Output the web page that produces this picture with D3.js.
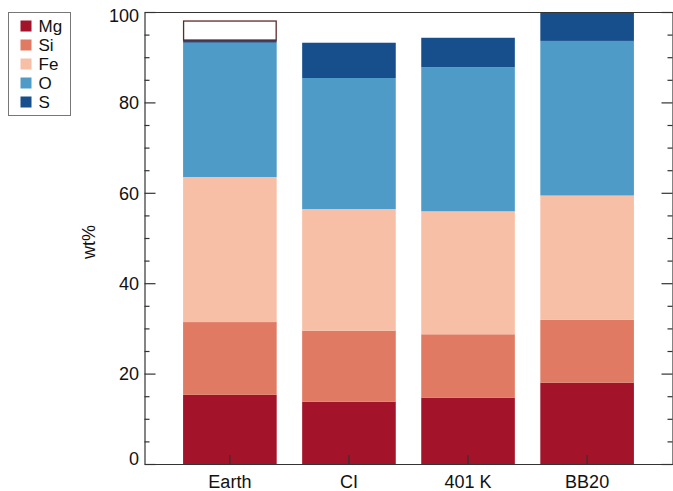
<!DOCTYPE html>
<html>
<head>
<meta charset="utf-8">
<script src="https://cdn.jsdelivr.net/npm/d3@7"></script>
<style>
  body { margin: 0; background: #fff; }
  svg { display: block; font-family: "Liberation Sans", Arial, Helvetica, sans-serif; }
</style>
</head>
<body>
<div id="canvas"></div>
<script>
// Datos (wt%)
const categories = ["Earth", "CI", "401 K", "BB20"];
const elements = ["Mg", "Si", "Fe", "O", "S"];
const Mg = [15.3, 13.8, 14.7, 18.0];
const Si = [16.1, 15.7, 14.0, 13.9];
const Fe = [32.1, 26.9, 27.2, 27.5];
const O = [29.7, 29.0, 31.9, 34.2];
const S = [0.6, 7.8, 6.5, 6.4];
// total con caja vacia (solo Earth)
const outlineTotal = [98.0, null, null, null];
const majorTicks = [0, 20, 40, 60, 80, 100];
const minorTicks = [5, 10, 15, 25, 30, 35, 45, 50, 55, 65, 70, 75, 85, 90, 95];

const colors = ["#a3132a", "#e07a62", "#f7c0a6", "#4e9bc8", "#164f8c"];

const width = 673;
const height = 491;
const margin = { top: 12, left: 144.5, bottom: 27, right: 0.5 };
const iwidth = width - margin.left - margin.right;
const iheight = height - margin.top - margin.bottom;

const rows = categories.map((c, i) => ({
  name: c, Mg: Mg[i], Si: Si[i], Fe: Fe[i], O: O[i], S: S[i], total: outlineTotal[i]
}));

const svg = d3.select("#canvas").append("svg")
  .attr("width", width)
  .attr("height", height);

svg.append("defs").append("clipPath").attr("id", "clip")
  .append("rect").attr("width", iwidth).attr("height", iheight);

const g = svg.append("g")
  .attr("transform", `translate(${margin.left},${margin.top})`);

const x = d3.scaleBand()
  .domain(categories)
  .range([0, iwidth])
  .paddingInner(0.214)
  .paddingOuter(0.324);

const y = d3.scaleLinear().domain([0, 100]).range([iheight, 0]);

const color = d3.scaleOrdinal().domain(elements).range(colors);

const series = d3.stack().keys(elements)(rows);

const plot = g.append("g").attr("clip-path", "url(#clip)");

plot.selectAll(".serie")
  .data(series)
  .enter()
  .append("g")
  .attr("class", "serie")
  .attr("fill", d => color(d.key))
  .selectAll("rect")
  .data(d => d)
  .enter()
  .append("rect")
  .attr("x", d => x(d.data.name))
  .attr("y", d => y(d[1]))
  .attr("width", x.bandwidth())
  .attr("height", d => y(d[0]) - y(d[1]));

// caja vacia encima de Earth
plot.selectAll(".outline")
  .data(rows.filter(d => d.total != null))
  .enter()
  .append("rect")
  .attr("class", "outline")
  .attr("x", d => x(d.name) + 0.5)
  .attr("y", d => y(d.total))
  .attr("width", x.bandwidth() - 1)
  .attr("height", d => y(elements.reduce((s, k) => s + d[k], 0)) - y(d.total))
  .attr("fill", "none")
  .attr("stroke", "#5e2a2a")
  .attr("stroke-width", 1.3);

// ejes
const frame = "#333";
const styleAxis = sel => {
  sel.selectAll("path").attr("stroke", frame).attr("stroke-width", 1.2);
  sel.selectAll("line").attr("stroke", frame).attr("stroke-width", 1.2);
  sel.selectAll("text").attr("fill", "#111").style("font-size", "18px");
};

g.append("g")
  .call(d3.axisLeft(y).tickValues(majorTicks).tickSize(-11).tickPadding(5.5).tickSizeOuter(0))
  .call(styleAxis)
  .call(s => s.selectAll("text")
    .attr("dy", d => d === 0 ? "0.05em" : d === 100 ? "0.52em" : "0.35em"));

g.append("g")
  .call(d3.axisLeft(y).tickValues(minorTicks).tickSize(-5).tickFormat("").tickSizeOuter(0))
  .call(styleAxis)
  .call(s => s.select(".domain").remove());

g.append("g")
  .attr("transform", `translate(${iwidth},0)`)
  .call(d3.axisRight(y).tickValues(majorTicks).tickSize(-11).tickFormat("").tickSizeOuter(0))
  .call(styleAxis);

g.append("g")
  .attr("transform", `translate(${iwidth},0)`)
  .call(d3.axisRight(y).tickValues(minorTicks).tickSize(-5).tickFormat("").tickSizeOuter(0))
  .call(styleAxis)
  .call(s => s.select(".domain").remove());

g.append("g")
  .attr("transform", `translate(0,${iheight})`)
  .call(d3.axisBottom(x).tickSize(-9).tickPadding(11.5).tickSizeOuter(0))
  .call(styleAxis);

g.append("g")
  .call(d3.axisTop(x).tickSize(0).tickFormat("").tickSizeOuter(0))
  .call(styleAxis);

// etiqueta del eje y
g.append("text")
  .attr("transform", "rotate(-90)")
  .attr("x", -(242 - margin.top))
  .attr("y", 95 - margin.left)
  .attr("text-anchor", "middle")
  .style("font-size", "18px")
  .attr("fill", "#111")
  .text("wt%");

// leyenda
const legend = svg.append("g").attr("transform", "translate(8.5,12.5)");
legend.append("rect")
  .attr("width", 62)
  .attr("height", 103)
  .attr("fill", "#fff")
  .attr("stroke", "#777")
  .attr("stroke-width", 1);

const item = legend.selectAll(".legend")
  .data(elements)
  .enter()
  .append("g")
  .attr("class", "legend")
  .attr("transform", (d, i) => `translate(12,${8 + i * 19})`);

item.append("rect")
  .attr("width", 11)
  .attr("height", 11)
  .attr("fill", d => color(d));

item.append("text")
  .attr("x", 18)
  .attr("y", 5.5)
  .attr("dy", "0.35em")
  .style("font-size", "17px")
  .attr("fill", "#111")
  .text(d => d);
</script>
</body>
</html>
